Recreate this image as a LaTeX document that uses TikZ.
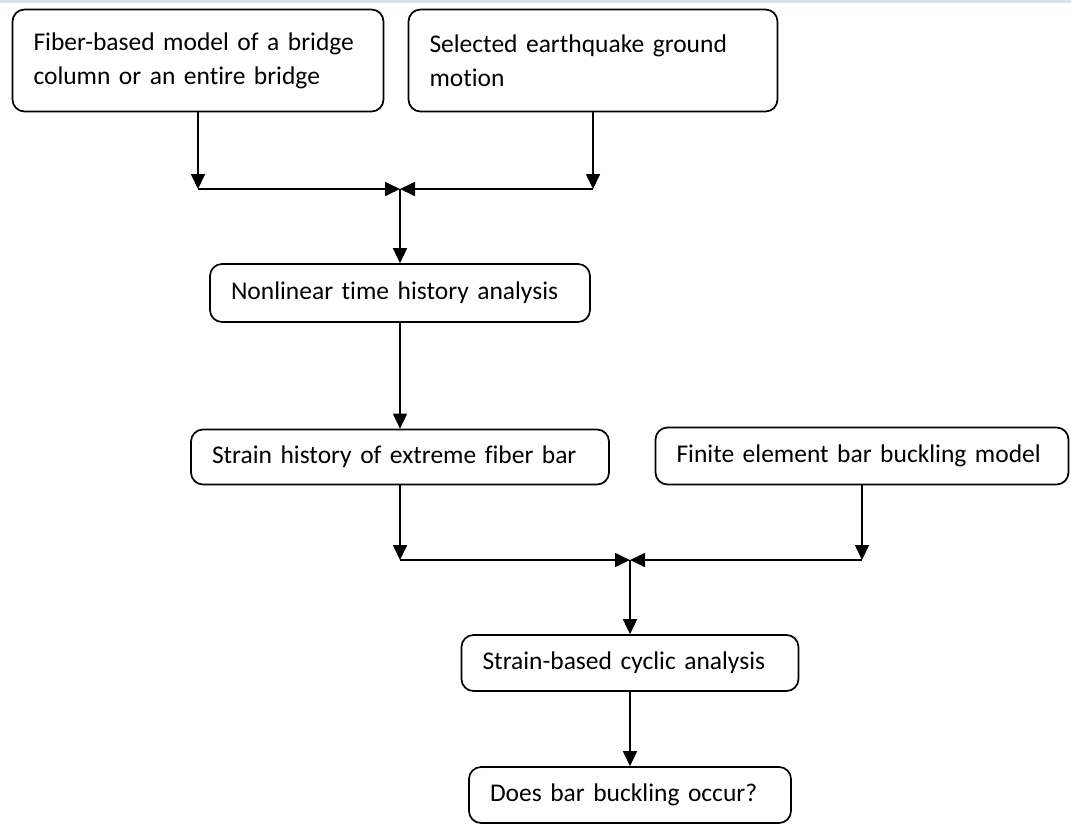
\documentclass[tikz,border=0pt]{standalone}
\usepackage{fontspec}
\setmainfont{Carlito}[Ligatures=NoCommon]
\usetikzlibrary{positioning, arrows.meta}

\begin{document}
\begin{tikzpicture}[x=1pt,y=-1pt,->,>={Triangle[length=15pt,width=14pt]},
    line width=1.7pt,
    box node/.style={draw,rounded corners=12pt,align=left,inner xsep=21pt,
      font=\fontsize{25.5}{34}\selectfont}]
    \useasboundingbox (0,0) rectangle (1071,823);
    \fill[fill={rgb,255:red,217;green,227;blue,232}] (0,0) rectangle (1071,3);
    % boxes
    \node[box node,minimum width=371pt,minimum height=102pt,text width=329pt] (model) at (198,60.5)
      {Fiber-based model of a bridge\\column or an entire bridge};
    \node[box node,minimum width=369pt,minimum height=102pt,text width=327pt] (motion) at (593,60.5)
      {Selected earthquake ground\\motion};
    \node[box node,minimum width=380pt,minimum height=58pt,text width=338pt] (nth) at (400,293)
      {Nonlinear time history analysis};
    \node[box node,minimum width=418pt,minimum height=55pt,text width=376pt] (strain) at (400,457)
      {Strain history of extreme fiber bar};
    \node[box node,minimum width=413pt,minimum height=57pt,text width=371pt] (fe) at (862,456)
      {Finite element bar buckling model};
    \node[box node,minimum width=337pt,minimum height=56pt,text width=295pt] (cyclic) at (630,663)
      {Strain-based cyclic analysis};
    \node[box node,minimum width=322pt,minimum height=56pt,text width=280pt] (buckle) at (630,795)
      {Does bar buckling occur?};
    % junctions
    \coordinate (j1) at (400,189);
    \coordinate (j2) at (630,560);
    \draw (model) -- (model |- j1);
    \draw (motion) -- (motion |- j1);
    \draw (model |- j1) -- (j1);
    \draw (motion |- j1) -- (j1);
    \draw (j1) -- (nth);
    \draw (nth) -- (strain);
    \draw (strain) -- (strain |- j2);
    \draw (fe) -- (fe |- j2);
    \draw (strain |- j2) -- (j2);
    \draw (fe |- j2) -- (j2);
    \draw (j2) -- (cyclic);
    \draw (cyclic) -- (buckle);
\end{tikzpicture}
\end{document}
